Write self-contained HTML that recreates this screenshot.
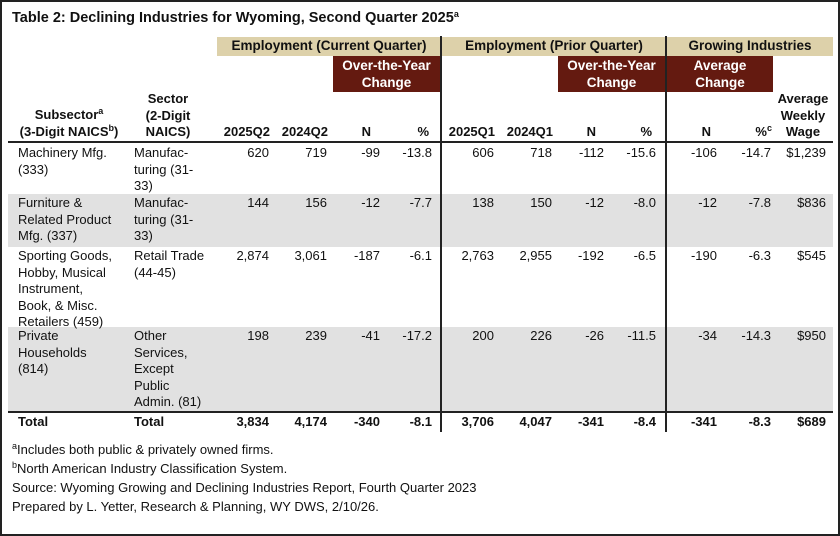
<!DOCTYPE html>
<html><head><meta charset="utf-8"><style>
body{margin:0;width:840px;height:536px;overflow:hidden;background:#fff;font-family:"Liberation Sans",Arial,sans-serif;}
#f{position:absolute;left:0;top:0;width:836px;height:532px;border:2px solid #222;}
.a{position:absolute;font-size:13px;line-height:16.5px;color:#111;white-space:nowrap;}
.b{font-weight:bold;}
.r{text-align:right;}
.c{text-align:center;}
.bg{position:absolute;}
sup{font-size:9px;line-height:0;vertical-align:5px;}
</style></head><body>
<div id="f"></div>
<div class="a b" style="left:12px;top:10px;font-size:14.5px">Table 2: Declining Industries for Wyoming, Second Quarter 2025<sup>a</sup></div>
<div class="bg" style="left:217px;top:37px;width:224px;height:19px;background:#ddd1aa"></div>
<div class="bg" style="left:442px;top:37px;width:224px;height:19px;background:#ddd1aa"></div>
<div class="bg" style="left:667px;top:37px;width:166px;height:19px;background:#ddd1aa"></div>
<div class="a b c" style="left:217px;top:38px;width:224px;font-size:13.5px">Employment (Current Quarter)</div>
<div class="a b c" style="left:442px;top:38px;width:224px;font-size:13.5px">Employment (Prior Quarter)</div>
<div class="a b c" style="left:667px;top:38px;width:166px;font-size:13.5px">Growing Industries</div>
<div class="bg" style="left:333px;top:56px;width:107px;height:36px;background:#641a10"></div>
<div class="bg" style="left:558px;top:56px;width:107px;height:36px;background:#641a10"></div>
<div class="bg" style="left:667px;top:56px;width:106px;height:36px;background:#641a10"></div>
<div class="a b c" style="left:333px;top:57px;width:107px;color:#fff;font-size:13.5px;line-height:17px">Over-the-Year<br>Change</div>
<div class="a b c" style="left:558px;top:57px;width:107px;color:#fff;font-size:13.5px;line-height:17px">Over-the-Year<br>Change</div>
<div class="a b c" style="left:667px;top:57px;width:106px;color:#fff;font-size:13.5px;line-height:17px">Average<br>Change</div>
<div class="bg" style="left:8px;top:194px;width:825px;height:53px;background:#e1e1e1"></div>
<div class="bg" style="left:8px;top:327px;width:825px;height:85px;background:#e1e1e1"></div>
<div class="bg" style="left:8px;top:141px;width:825px;height:2px;background:#222"></div>
<div class="bg" style="left:8px;top:411px;width:825px;height:2px;background:#222"></div>
<div class="bg" style="left:440px;top:36px;width:2px;height:396px;background:#222"></div>
<div class="bg" style="left:665px;top:36px;width:2px;height:396px;background:#222"></div>
<div class="a b c" style="left:8px;top:107px;width:122px">Subsector<sup>a</sup><br>(3-Digit NAICS<sup>b</sup>)</div>
<div class="a b c" style="left:130px;top:91px;width:76px">Sector<br>(2-Digit<br>NAICS)</div>
<div class="a b r" style="left:210px;top:124px;width:60px">2025Q2</div>
<div class="a b r" style="left:268px;top:124px;width:60px">2024Q2</div>
<div class="a b r" style="left:340px;top:124px;width:31px">N</div>
<div class="a b r" style="left:400px;top:124px;width:29px">%</div>
<div class="a b r" style="left:434px;top:124px;width:61px">2025Q1</div>
<div class="a b r" style="left:492px;top:124px;width:61px">2024Q1</div>
<div class="a b r" style="left:564px;top:124px;width:32px">N</div>
<div class="a b r" style="left:620px;top:124px;width:32px">%</div>
<div class="a b r" style="left:680px;top:124px;width:31px">N</div>
<div class="a b r" style="left:740px;top:124px;width:32px">%<sup>c</sup></div>
<div class="a b c" style="left:772px;top:91px;width:62px">Average<br>Weekly<br>Wage</div>

<div class="a" style="left:18px;top:145px">Machinery Mfg.<br>(333)</div>
<div class="a" style="left:134px;top:145px">Manufac-<br>turing (31-<br>33)</div>
<div class="a" style="left:18px;top:195px">Furniture &amp;<br>Related Product<br>Mfg. (337)</div>
<div class="a" style="left:134px;top:195px">Manufac-<br>turing (31-<br>33)</div>
<div class="a" style="left:18px;top:248px">Sporting Goods,<br>Hobby, Musical<br>Instrument,<br>Book, &amp; Misc.<br>Retailers (459)</div>
<div class="a" style="left:134px;top:248px">Retail Trade<br>(44-45)</div>
<div class="a" style="left:18px;top:328px">Private<br>Households<br>(814)</div>
<div class="a" style="left:134px;top:328px">Other<br>Services,<br>Except<br>Public<br>Admin. (81)</div>
<div class="a b" style="left:18px;top:414px">Total</div>
<div class="a b" style="left:134px;top:414px">Total</div>

<div class="a r" style="left:200px;top:145px;width:69px">620</div>
<div class="a r" style="left:260px;top:145px;width:67px">719</div>
<div class="a r" style="left:330px;top:145px;width:50px">-99</div>
<div class="a r" style="left:380px;top:145px;width:52px">-13.8</div>
<div class="a r" style="left:440px;top:145px;width:54px">606</div>
<div class="a r" style="left:500px;top:145px;width:52px">718</div>
<div class="a r" style="left:554px;top:145px;width:50px">-112</div>
<div class="a r" style="left:604px;top:145px;width:52px">-15.6</div>
<div class="a r" style="left:667px;top:145px;width:50px">-106</div>
<div class="a r" style="left:717px;top:145px;width:54px">-14.7</div>
<div class="a r" style="left:771px;top:145px;width:55px">$1,239</div>

<div class="a r" style="left:200px;top:195px;width:69px">144</div>
<div class="a r" style="left:260px;top:195px;width:67px">156</div>
<div class="a r" style="left:330px;top:195px;width:50px">-12</div>
<div class="a r" style="left:380px;top:195px;width:52px">-7.7</div>
<div class="a r" style="left:440px;top:195px;width:54px">138</div>
<div class="a r" style="left:500px;top:195px;width:52px">150</div>
<div class="a r" style="left:554px;top:195px;width:50px">-12</div>
<div class="a r" style="left:604px;top:195px;width:52px">-8.0</div>
<div class="a r" style="left:667px;top:195px;width:50px">-12</div>
<div class="a r" style="left:717px;top:195px;width:54px">-7.8</div>
<div class="a r" style="left:771px;top:195px;width:55px">$836</div>

<div class="a r" style="left:200px;top:248px;width:69px">2,874</div>
<div class="a r" style="left:260px;top:248px;width:67px">3,061</div>
<div class="a r" style="left:330px;top:248px;width:50px">-187</div>
<div class="a r" style="left:380px;top:248px;width:52px">-6.1</div>
<div class="a r" style="left:440px;top:248px;width:54px">2,763</div>
<div class="a r" style="left:500px;top:248px;width:52px">2,955</div>
<div class="a r" style="left:554px;top:248px;width:50px">-192</div>
<div class="a r" style="left:604px;top:248px;width:52px">-6.5</div>
<div class="a r" style="left:667px;top:248px;width:50px">-190</div>
<div class="a r" style="left:717px;top:248px;width:54px">-6.3</div>
<div class="a r" style="left:771px;top:248px;width:55px">$545</div>

<div class="a r" style="left:200px;top:328px;width:69px">198</div>
<div class="a r" style="left:260px;top:328px;width:67px">239</div>
<div class="a r" style="left:330px;top:328px;width:50px">-41</div>
<div class="a r" style="left:380px;top:328px;width:52px">-17.2</div>
<div class="a r" style="left:440px;top:328px;width:54px">200</div>
<div class="a r" style="left:500px;top:328px;width:52px">226</div>
<div class="a r" style="left:554px;top:328px;width:50px">-26</div>
<div class="a r" style="left:604px;top:328px;width:52px">-11.5</div>
<div class="a r" style="left:667px;top:328px;width:50px">-34</div>
<div class="a r" style="left:717px;top:328px;width:54px">-14.3</div>
<div class="a r" style="left:771px;top:328px;width:55px">$950</div>

<div class="a b r" style="left:200px;top:414px;width:69px">3,834</div>
<div class="a b r" style="left:260px;top:414px;width:67px">4,174</div>
<div class="a b r" style="left:330px;top:414px;width:50px">-340</div>
<div class="a b r" style="left:380px;top:414px;width:52px">-8.1</div>
<div class="a b r" style="left:440px;top:414px;width:54px">3,706</div>
<div class="a b r" style="left:500px;top:414px;width:52px">4,047</div>
<div class="a b r" style="left:554px;top:414px;width:50px">-341</div>
<div class="a b r" style="left:604px;top:414px;width:52px">-8.4</div>
<div class="a b r" style="left:667px;top:414px;width:50px">-341</div>
<div class="a b r" style="left:717px;top:414px;width:54px">-8.3</div>
<div class="a b r" style="left:771px;top:414px;width:55px">$689</div>

<div class="a" style="left:12px;top:440px;line-height:19px;font-size:13px"><sup>a</sup>Includes both public &amp; privately owned firms.<br><sup>b</sup>North American Industry Classification System.<br>Source: Wyoming Growing and Declining Industries Report, Fourth Quarter 2023<br>Prepared by L. Yetter, Research &amp; Planning, WY DWS, 2/10/26.</div>
</body></html>
